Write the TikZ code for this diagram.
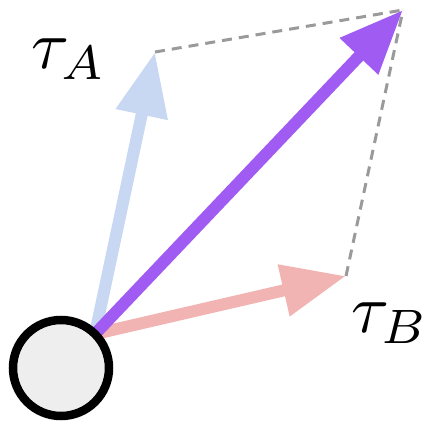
\documentclass[tikz,border=0pt]{standalone}
\usepackage{graphicx}
\usetikzlibrary{arrows.meta}
\definecolor{vblue}{HTML}{C9D8F2}
\definecolor{vpink}{HTML}{F2B3B3}
\definecolor{vpurple}{HTML}{A05CF2}
\definecolor{dgray}{HTML}{9A9A9A}
\definecolor{cfill}{HTML}{EEEEEE}
\begin{document}
\begin{tikzpicture}[x=1pt,y=1pt,
  vec/.style={line width=12pt,-{Triangle[length=64pt,width=50pt]}},
  guide/.style={dgray,line width=3pt,dash pattern=on 10pt off 7pt},
  lbl/.style={inner sep=0pt}]
\useasboundingbox (0,0) rectangle (433,423);
\coordinate (O) at (95,89);
\coordinate (A) at (155,371);
\coordinate (B) at (346,147);
\coordinate (C) at (403,413);
\draw[guide] (A) -- (C);
\draw[guide] (B) -- (C);
\draw[vec,vblue] (O) -- (A);
\draw[vec,vpink] (O) -- (B);
\draw[vec,vpurple] (O) -- (C);
\node[circle,draw=black,fill=cfill,line width=8.5pt,minimum size=96pt,inner sep=0pt] (ball) at (61,55) {};
\node[lbl] (tA) at (69,364) {\scalebox{6.9}{$\tau_A$}};
\node[lbl] (tB) at (390,100) {\scalebox{6.9}{$\tau_B$}};
\end{tikzpicture}
\end{document}
